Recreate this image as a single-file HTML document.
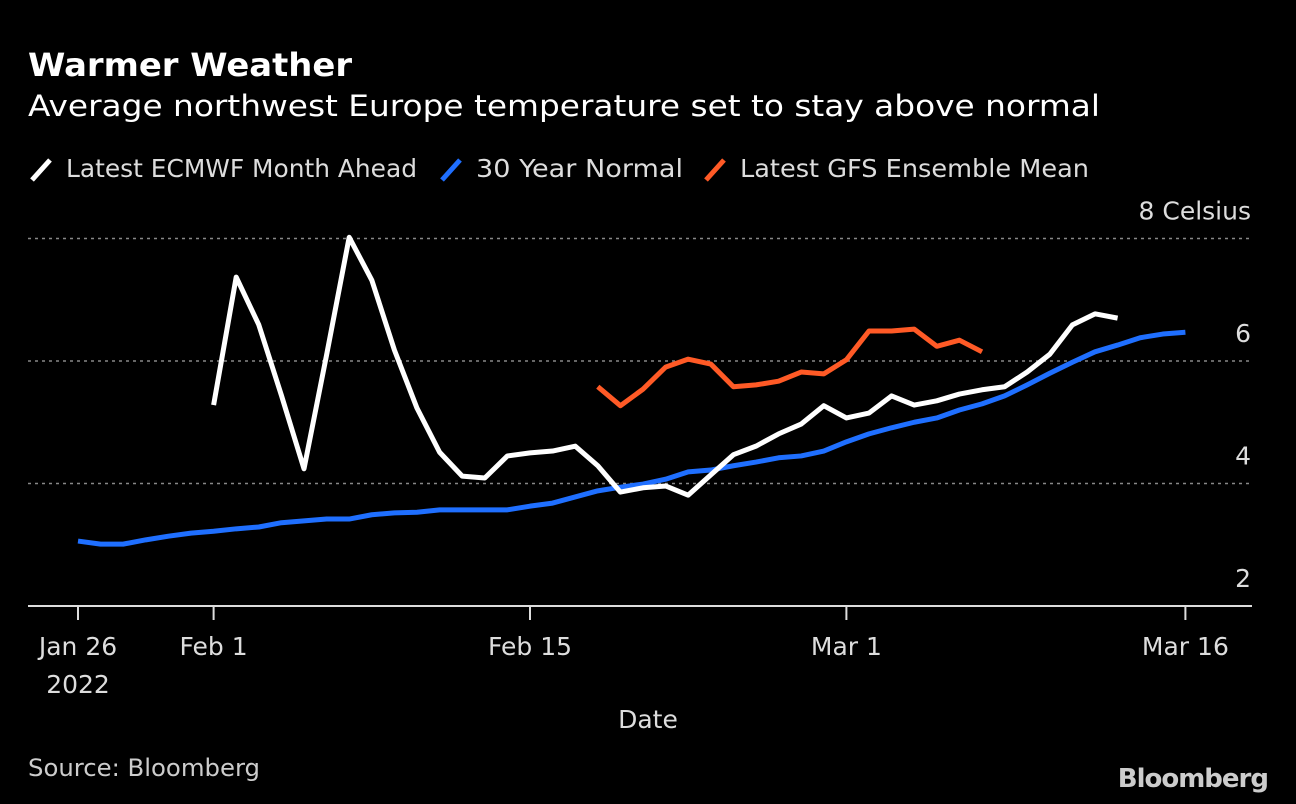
<!DOCTYPE html>
<html><head><meta charset="utf-8"><style>
body{margin:0;background:#000;width:1296px;height:804px;overflow:hidden;font-family:"DejaVu Sans","Liberation Sans",sans-serif;color:#fff}
svg{position:absolute;left:0;top:0;font-family:"DejaVu Sans","Liberation Sans",sans-serif}
</style></head><body>
<svg width="1296" height="804" id="chart">
<text x="28" y="76" font-size="32" font-weight="bold" fill="#fff" textLength="324" lengthAdjust="spacingAndGlyphs">Warmer Weather</text>
<text x="28" y="116" font-size="29" fill="#fff" textLength="1072" lengthAdjust="spacingAndGlyphs">Average northwest Europe temperature set to stay above normal</text>
<g id="legend" font-size="25" fill="#ddd">
<line x1="32" y1="180" x2="50" y2="160" stroke="#fff" stroke-width="5"/>
<text x="66" y="177" textLength="351" lengthAdjust="spacingAndGlyphs">Latest ECMWF Month Ahead</text>
<line x1="442" y1="180" x2="460" y2="160" stroke="#1f6fff" stroke-width="5"/>
<text x="476" y="177" textLength="207" lengthAdjust="spacingAndGlyphs">30 Year Normal</text>
<line x1="706" y1="180" x2="724" y2="160" stroke="#ff5a26" stroke-width="5"/>
<text x="740" y="177" textLength="349" lengthAdjust="spacingAndGlyphs">Latest GFS Ensemble Mean</text>
</g>
<g id="grid"></g><g id="axes"></g><g id="series"></g>
<text x="648" y="728" font-size="25" fill="#ddd" text-anchor="middle">Date</text>
<text x="28" y="776" font-size="24" fill="#ccc" textLength="232" lengthAdjust="spacingAndGlyphs">Source: Bloomberg</text>
<text x="1268" y="787" font-size="26" font-weight="bold" fill="#ccc" text-anchor="end" letter-spacing="-1">Bloomberg</text>
</svg>
<script>
const normalStart=0;
const normalVals=[541,544,544,540,536,533,531,529,527,523,521,519,519,515,513,512,510,510,510,510,506,503,497,491,487,484,479,472,470,466,462,458,456,451,442,434,428,422,418,410,404,396,385,373,362,352,345,338,334,332].map(y=>+(2+(606-y)/61.25).toFixed(2));
const ecmwfStart=6;
const ecmwfVals=[405,277,325,395,469,355,237,280,350,408,452,476,478,456,453,451,446,466,492,488,486,495,475,455,446,434,424,406,418,413,396,405,401,394,390,387,372,354,325,314,318].map(y=>+(2+(606-y)/61.25).toFixed(2));
const gfsStart=23;
const gfsVals=[387,406,389,367,359,364,387,385,381,372,374,360,331,331,329,346,340,352].map(y=>+(2+(606-y)/61.25).toFixed(2));
const yTicks=[2,4,6,8];
const yTickLabels=["2","4","6","8 Celsius"];
const xTicks=[0,6,20,34,49];
const xTickLabels=[["Jan 26","2022"],["Feb 1"],["Feb 15"],["Mar 1"],["Mar 16"]];
const NS="http://www.w3.org/2000/svg";
const X=d=>78+d*22.6;
const Y=v=>606-(v-2)*61.25;
function mk(tag,attrs,parent){const e=document.createElementNS(NS,tag);for(const k in attrs)e.setAttribute(k,attrs[k]);document.getElementById(parent).appendChild(e);return e;}
yTicks.forEach((v,i)=>{
 if(v>2){const l=mk('line',{x1:28,x2:1252,y1:Y(v),y2:Y(v),stroke:'#888','stroke-width':1.5,'stroke-dasharray':'3,4'},'grid');
 
 }
 const t=mk('text',{x:1251,y:Y(v)-19,'font-size':25,fill:'#ddd','text-anchor':'end'},'axes');t.textContent=yTickLabels[i];
 
 
});
const ax=mk('line',{x1:28,x2:1252,y1:606,y2:606,stroke:'#ddd','stroke-width':2},'axes');


xTicks.forEach((d,i)=>{
 const tk=mk('line',{x1:X(d),x2:X(d),y1:606,y2:620,stroke:'#ddd','stroke-width':2},'axes');
 
 
 xTickLabels[i].forEach((s,j)=>{const t=mk('text',{x:X(d),y:655+j*38,'font-size':25,fill:'#ddd','text-anchor':'middle'},'axes');t.textContent=s;
 
 });
});
function line(start,vals,color,name){
 const p=mk('polyline',{points:vals.map((v,i)=>X(start+i)+','+Y(v)).join(' '),fill:'none',stroke:color,'stroke-width':5,'stroke-linejoin':'round'},'series');
 
 
}
line(normalStart,normalVals,'#1f6fff','series-30-year-normal');
line(gfsStart,gfsVals,'#ff5a26','series-gfs-ensemble-mean');
line(ecmwfStart,ecmwfVals,'#fff','series-ecmwf-month-ahead');
</script>
</body></html>
